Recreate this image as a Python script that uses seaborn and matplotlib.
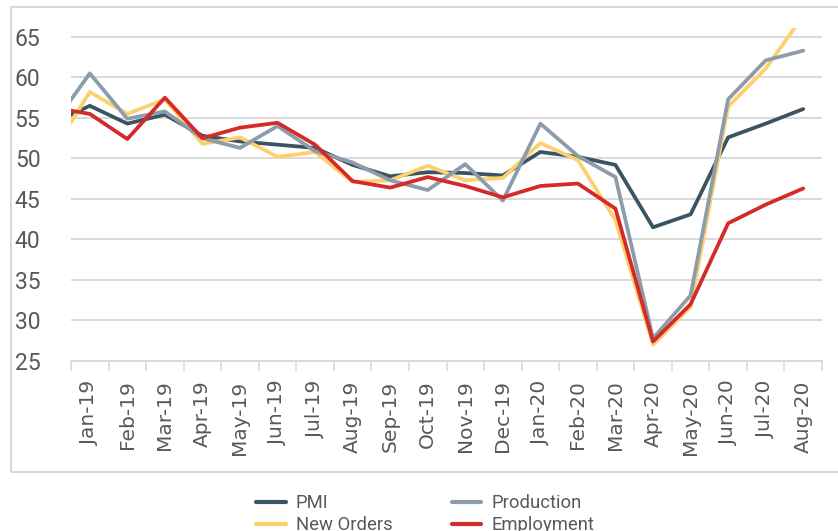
import matplotlib
matplotlib.use("Agg")
import matplotlib.pyplot as plt
import seaborn as sns
import pandas as pd
import numpy as np
from matplotlib.patches import Rectangle

months = ["Dec-18", "Jan-19", "Feb-19", "Mar-19", "Apr-19", "May-19", "Jun-19", "Jul-19",
          "Aug-19", "Sep-19", "Oct-19", "Nov-19", "Dec-19", "Jan-20", "Feb-20", "Mar-20",
          "Apr-20", "May-20", "Jun-20", "Jul-20", "Aug-20"]
pmi = [54.3, 56.5, 54.3, 55.4, 52.8, 52.1, 51.7, 51.3, 49.2, 47.8, 48.3, 48.2, 47.9,
       50.8, 50.2, 49.2, 41.5, 43.1, 52.6, 54.3, 56.1]
new_orders = [50.8, 58.2, 55.5, 57.3, 51.8, 52.6, 50.2, 50.8, 47.1, 47.3, 49.1, 47.3, 47.6,
              51.9, 49.8, 42.4, 27.0, 31.7, 56.4, 61.1, 67.6]
production = [54.0, 60.5, 54.9, 55.8, 52.5, 51.3, 54.0, 50.9, 49.5, 47.3, 46.1, 49.3, 44.8,
              54.3, 50.3, 47.7, 27.8, 33.1, 57.3, 62.1, 63.3]
employment = [56.3, 55.5, 52.4, 57.5, 52.5, 53.8, 54.4, 51.7, 47.2, 46.4, 47.7, 46.6, 45.2,
              46.6, 46.9, 43.8, 27.4, 32.0, 42.0, 44.3, 46.3]
series_names = ["PMI", "New Orders", "Production", "Employment"]
colors = ["#3b5463", "#fdd06b", "#8c9cab", "#d42a2a"]
yticks = [25, 30, 35, 40, 45, 50, 55, 60, 65]

df = pd.DataFrame({
    "month": months * 4,
    "value": pmi + new_orders + production + employment,
    "series": sum([[s] * len(months) for s in series_names], []),
})

sns.set_theme(style="white")
fig = plt.figure(figsize=(8.38, 5.31), dpi=100)
ax = fig.add_axes([71 / 838, 1 - 361 / 531, (822 - 71) / 838, (361 - 28) / 531])

sns.lineplot(data=df, x="month", y="value", hue="series", hue_order=series_names,
             palette=colors, linewidth=2.7, sort=False, errorbar=None, ax=ax)

ax.set_xlim(0.5, len(months) - 0.5)
ax.set_ylim(25, 66.1)
ax.set_yticks(yticks)
ax.set_yticklabels([str(v) for v in yticks], fontfamily="Roboto", fontsize=16.5, color="#595959")
ax.yaxis.grid(True, color="#d9d9d9", linewidth=1.4)
ax.set_axisbelow(True)
ax.tick_params(axis="y", length=0, pad=22)

ax.set_xticks(range(1, len(months)))
ax.set_xticklabels(months[1:], rotation=90, fontfamily="DejaVu Sans", fontsize=14.5, color="#595959")
ax.set_xticks(np.arange(0.5, len(months), 1.0), minor=True)
ax.tick_params(axis="x", which="major", length=0, pad=14)
ax.tick_params(axis="x", which="minor", length=7, width=1.2, color="#d9d9d9", bottom=True)
for s in ["top", "right", "left"]:
    ax.spines[s].set_visible(False)
ax.spines["bottom"].set_color("#d9d9d9")
ax.spines["bottom"].set_linewidth(1.4)
ax.set_xlabel("")
ax.set_ylabel("")

handles, labels = ax.get_legend_handles_labels()
if ax.legend_:
    ax.legend_.remove()
for h in handles:
    h.set_linewidth(3)
fig.legend(handles, labels, ncol=2, loc="upper left", bbox_to_anchor=(256 / 838, 1 - 494 / 531),
           frameon=False, borderpad=0, borderaxespad=0, handlelength=1.6, handletextpad=0.55,
           columnspacing=3.2, labelspacing=0.22,
           prop={"family": "Roboto", "size": 13.3}, labelcolor="#595959")

fig.patches.append(Rectangle((11 / 838, 1 - 472 / 531), 1.0, (472 - 7) / 531,
                             transform=fig.transFigure, fill=False, edgecolor="#d9d9d9",
                             linewidth=1.5, zorder=0))

fig.savefig("out.png", dpi=100)
